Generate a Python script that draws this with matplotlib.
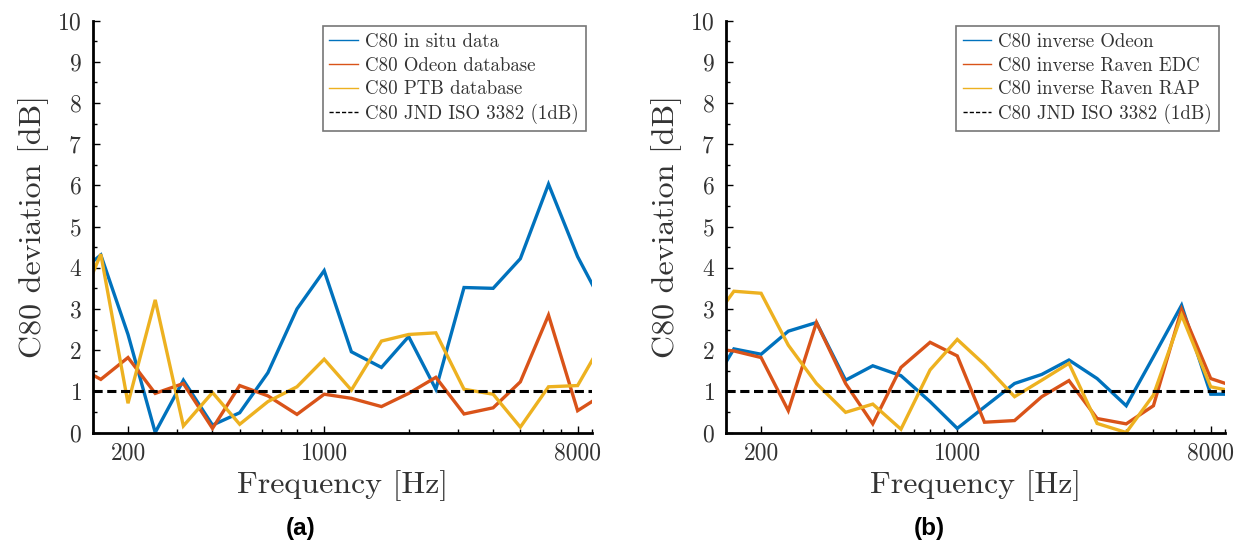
import numpy as np
import matplotlib
matplotlib.use("Agg")
import matplotlib.pyplot as plt
from matplotlib.lines import Line2D
from matplotlib.ticker import FixedLocator, LogLocator, NullFormatter

plt.rcParams['font.family'] = 'serif'
plt.rcParams['font.serif'] = ['cmr10']
plt.rcParams['mathtext.fontset'] = 'cm'
plt.rcParams['axes.unicode_minus'] = False
plt.rcParams['axes.formatter.use_mathtext'] = True

# Third-octave bands (the 125 Hz and 10 kHz bands are clipped by the x limits)
freq = [125, 160, 200, 250, 315, 400, 500, 630, 800, 1000, 1250, 1600,
        2000, 2500, 3150, 4000, 5000, 6300, 8000, 10000]

# (a) measured / database deviations
insitu = [3.72, 4.31, 2.38, 0.00, 1.27, 0.18, 0.48, 1.45, 3.00, 3.93, 1.96, 1.58,
          2.33, 1.05, 3.52, 3.50, 4.22, 6.03, 4.27, 3.02]
odeon_db = [1.69, 1.29, 1.82, 0.95, 1.19, 0.10, 1.14, 0.89, 0.44, 0.93, 0.83, 0.63,
            0.95, 1.34, 0.45, 0.60, 1.23, 2.85, 0.53, 0.95]
ptb_db = [2.61, 4.33, 0.71, 3.22, 0.16, 0.97, 0.20, 0.75, 1.11, 1.78, 1.03, 2.22,
          2.38, 2.42, 1.05, 0.93, 0.13, 1.11, 1.14, 2.29]

# (b) inverse-model deviations
inv_odeon = [0.81, 2.03, 1.90, 2.46, 2.67, 1.27, 1.62, 1.38, 0.75, 0.10, 0.62, 1.19,
             1.41, 1.76, 1.31, 0.65, 1.84, 3.09, 0.93, 0.93]
inv_edc = [2.05, 1.98, 1.82, 0.53, 2.67, 1.19, 0.21, 1.58, 2.19, 1.86, 0.25, 0.29,
           0.87, 1.26, 0.34, 0.21, 0.65, 2.99, 1.31, 1.09]
inv_rap = [2.42, 3.43, 3.38, 2.12, 1.19, 0.49, 0.69, 0.08, 1.52, 2.26, 1.65, 0.87,
           1.27, 1.68, 0.22, 0.00, 0.91, 2.85, 1.11, 0.98]

jnd = 1.0
xticks = [200, 1000, 8000]

labels_a = ["C80 in situ data", "C80 Odeon database", "C80 PTB database"]
labels_b = ["C80 inverse Odeon", "C80 inverse Raven EDC", "C80 inverse Raven RAP"]
jnd_label = "C80 JND ISO 3382 (1dB)"

colors = ['#0072BD', '#D95319', '#EDB120']
txt = '#333333'

fig = plt.figure(figsize=(12.46, 5.42), dpi=100)
ax_a = fig.add_axes([0.0746, 0.202, 0.4005, 0.760])
ax_b = fig.add_axes([0.5827, 0.202, 0.4005, 0.760])


def draw_panel(ax, series, labels):
    for y, c in zip(series, colors):
        ax.plot(freq, y, color=c, lw=2.4, solid_joinstyle='miter')
    ax.axhline(jnd, color='black', lw=2.2, ls=(0, (3, 1.5)))
    ax.set_xscale('log')
    ax.set_xlim(150, 9000)
    ax.set_ylim(0, 10)
    ax.xaxis.set_major_locator(FixedLocator(xticks))
    ax.xaxis.set_minor_locator(LogLocator(base=10, subs=np.arange(2, 10)))
    ax.xaxis.set_minor_formatter(NullFormatter())
    ax.set_xticklabels([str(t) for t in xticks])
    ax.set_yticks(range(0, 11))
    ax.set_yticks(np.arange(0.5, 10, 1), minor=True)
    ax.tick_params(which='both', direction='in', labelsize=17, colors='black',
                   labelcolor=txt, width=1)
    ax.tick_params(which='major', length=5)
    ax.tick_params(which='minor', length=3)
    ax.tick_params(axis='y', pad=8)
    ax.tick_params(axis='x', pad=7)
    for s in ['top', 'right']:
        ax.spines[s].set_visible(False)
    for s in ['left', 'bottom']:
        ax.spines[s].set_linewidth(2)
    ax.set_xlabel("Frequency [Hz]", fontsize=23, color=txt, labelpad=4)
    ax.set_ylabel("C80 deviation [dB]", fontsize=23, color=txt, labelpad=6)
    handles = [Line2D([], [], color=c, lw=1) for c in colors]
    handles.append(Line2D([], [], color='black', lw=1, ls=(0, (3, 1.5))))
    leg = ax.legend(handles, labels + [jnd_label], loc='upper right',
                    bbox_to_anchor=(0.995, 0.995), fontsize=13.6, frameon=True,
                    fancybox=False, edgecolor='#777777', framealpha=1,
                    handlelength=1.5, handletextpad=0.4, labelspacing=0.3,
                    borderpad=0.35, borderaxespad=0.2)
    leg.get_frame().set_linewidth(1.2)
    for t in leg.get_texts():
        t.set_color(txt)


draw_panel(ax_a, [insitu, odeon_db, ptb_db], labels_a)
draw_panel(ax_b, [inv_odeon, inv_edc, inv_rap], labels_b)

fig.text(301 / 1246, 1 - 528 / 542, "(a)", family='Liberation Sans', weight='bold',
         fontsize=17.5, ha='center', va='center')
fig.text(929 / 1246, 1 - 528 / 542, "(b)", family='Liberation Sans', weight='bold',
         fontsize=17.5, ha='center', va='center')

fig.savefig("out.png", dpi=100)
